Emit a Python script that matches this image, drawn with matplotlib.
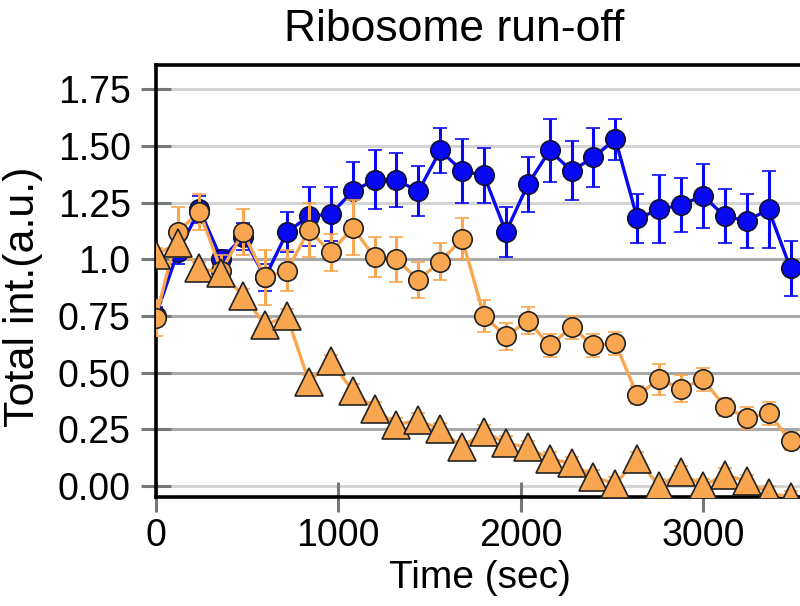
import matplotlib
matplotlib.use("Agg")
import matplotlib.pyplot as plt

plt.rcParams["font.family"] = ["Liberation Sans", "DejaVu Sans"]

# time points (sec)
time_s = [0, 120, 240, 360, 480, 600, 720, 840, 960, 1080,
          1200, 1320, 1440, 1560, 1680, 1800, 1920, 2040, 2160, 2280,
          2400, 2520, 2640, 2760, 2880, 3000, 3120, 3240, 3360, 3480]

# blue circles
blue_val = [0.75, 1.03, 1.22, 1.00, 1.10, 0.92, 1.12, 1.19, 1.20, 1.30,
            1.35, 1.35, 1.30, 1.48, 1.39, 1.37, 1.12, 1.33, 1.48, 1.39,
            1.45, 1.53, 1.18, 1.22, 1.24, 1.28, 1.19, 1.17, 1.22, 0.96]
blue_err = [0.04, 0.05, 0.06, 0.04, 0.06, 0.06, 0.09, 0.13, 0.12, 0.13,
            0.13, 0.12, 0.11, 0.10, 0.14, 0.12, 0.11, 0.12, 0.14, 0.13,
            0.13, 0.09, 0.11, 0.15, 0.12, 0.14, 0.12, 0.12, 0.17, 0.12]

# orange circles
orange_val = [0.74, 1.12, 1.21, 0.95, 1.12, 0.92, 0.95, 1.13, 1.03, 1.14,
              1.01, 1.00, 0.91, 0.99, 1.09, 0.75, 0.66, 0.73, 0.62, 0.70,
              0.62, 0.63, 0.40, 0.47, 0.43, 0.47, 0.35, 0.30, 0.32, 0.20]
orange_err = [0.08, 0.11, 0.08, 0.07, 0.10, 0.12, 0.09, 0.12, 0.08, 0.12,
              0.09, 0.10, 0.08, 0.08, 0.09, 0.07, 0.06, 0.06, 0.05, 0.05,
              0.05, 0.05, 0.04, 0.07, 0.06, 0.05, 0.04, 0.05, 0.05, 0.04]

# orange triangles
tri_val = [1.02, 1.07, 0.96, 0.94, 0.84, 0.71, 0.75, 0.46, 0.55, 0.42,
           0.34, 0.27, 0.29, 0.25, 0.17, 0.24, 0.19, 0.17, 0.12, 0.10,
           0.04, 0.01, 0.12, 0.00, 0.06, 0.00, 0.05, 0.02, -0.03, -0.05]
tri_err = [0.03] * 30

yticks = [0.0, 0.25, 0.5, 0.75, 1.0, 1.25, 1.5, 1.75]
ytick_labels = ["0.00", "0.25", "0.50", "0.75", "1.0", "1.25", "1.50", "1.75"]
xticks = [0, 1000, 2000, 3000]

BLUE = "#0808f2"
ORANGE = "#f8a650"
EDGE = "#222222"

fig = plt.figure(figsize=(8, 6.06), dpi=100)
ax = fig.add_axes([0.1946, 0.1799, 0.8054, 0.7128])

# grid lines (light at 0 and above 1, darker in between)
for y in yticks:
    c = "#a9a9a9" if 0.1 < y < 1.1 else "#d4d4d4"
    ax.axhline(y, color=c, lw=2.2, zorder=0)

ax.errorbar(time_s, blue_val, yerr=blue_err, color=BLUE, lw=2.4, elinewidth=2.2,
            capsize=5, capthick=2.2, marker="o", ms=14, mfc=BLUE, mec="#111133",
            mew=1.2, zorder=2)
ax.errorbar(time_s, orange_val, yerr=orange_err, color=ORANGE, lw=2.4,
            elinewidth=2.2, capsize=5, capthick=2.2, marker="o", ms=14,
            mfc=ORANGE, mec=EDGE, mew=1.2, zorder=3)
ax.errorbar(time_s, tri_val, yerr=tri_err, color=ORANGE, lw=2.4,
            elinewidth=2.2, capsize=5, capthick=2.2, marker="^", ms=20,
            mfc=ORANGE, mec=EDGE, mew=1.2, zorder=4)

ax.set_xlim(0, 3532)
ax.set_ylim(-0.0485, 1.857)
ax.set_xticks(xticks)
ax.set_yticks(yticks)
ax.set_yticklabels(ytick_labels)

for side in ["left", "top", "bottom"]:
    ax.spines[side].set_linewidth(2.6)
    ax.spines[side].set_color("black")
ax.spines["right"].set_visible(False)

ax.tick_params(axis="both", direction="inout", length=22, width=2.2,
               color="#777777", labelsize=27)
ax.tick_params(axis="x", pad=4)
ax.tick_params(axis="y", pad=7)

ax.set_xlabel("Time (sec)", fontsize=28)
ax.xaxis.set_label_coords(0.504, -0.146)
ax.set_ylabel("Total int.(a.u.)", fontsize=31)
ax.yaxis.set_label_coords(-0.175, 0.463)
fig.text(0.5675, 1 - 41 / 606, "Ribosome run-off", fontsize=32,
         ha="center", va="baseline")

fig.savefig("out.png", dpi=100)
